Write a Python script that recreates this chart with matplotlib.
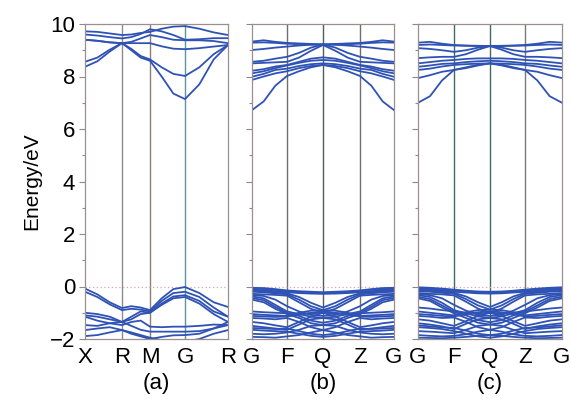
import numpy as np
import matplotlib.pyplot as plt

plt.rcParams['font.family'] = ['Liberation Sans', 'DejaVu Sans']

# high-symmetry labels of the three k-paths
labels_a = ['X', 'R', 'M', 'G', 'R']
labels_b = ['G', 'F', 'Q', 'Z', 'G']
labels_c = ['G', 'F', 'Q', 'Z', 'G']
panel_names = ['(a)', '(b)', '(c)']

# energies (eV) sampled at each high-symmetry point and at 1/3, 2/3 of each segment
bands_a_cond = [
    [9.72, 9.70, 9.64, 9.58, 9.60, 9.66, 9.70, 9.82, 9.90, 9.92, 9.82, 9.68, 9.58],
    [9.60, 9.56, 9.50, 9.45, 9.50, 9.62, 9.80, 9.72, 9.58, 9.40, 9.42, 9.46, 9.46],
    [9.40, 9.36, 9.30, 9.27, 9.32, 9.45, 9.58, 9.50, 9.40, 9.38, 9.38, 9.35, 9.27],
    [9.40, 9.36, 9.30, 9.27, 9.27, 9.27, 9.27, 9.15, 9.06, 9.04, 9.08, 9.14, 9.20],
    [8.56, 8.72, 9.02, 9.27, 9.05, 8.78, 8.65, 8.35, 8.10, 8.02, 8.35, 8.85, 9.20],
    [8.37, 8.58, 8.95, 9.27, 9.00, 8.72, 8.60, 8.00, 7.35, 7.14, 7.70, 8.65, 9.20],
]
bands_a_val = [
    [-0.08, -0.30, -0.60, -0.82, -0.75, -0.80, -0.90, -0.45, -0.10, -0.02, -0.25, -0.60, -0.78],
    [-0.20, -0.40, -0.68, -0.90, -0.85, -0.88, -0.95, -0.55, -0.25, -0.20, -0.40, -0.80, -1.15],
    [-1.00, -1.05, -1.15, -1.35, -1.15, -0.95, -1.00, -0.65, -0.38, -0.33, -0.55, -0.95, -1.15],
    [-1.10, -1.15, -1.25, -1.35, -1.25, -1.05, -1.00, -0.70, -0.45, -0.40, -0.65, -1.05, -1.35],
    [-1.15, -1.30, -1.40, -1.47, -1.35, -1.30, -1.53, -1.55, -1.53, -1.53, -1.50, -1.45, -1.47],
    [-1.47, -1.50, -1.40, -1.35, -1.50, -1.65, -1.72, -1.72, -1.72, -1.72, -1.70, -1.60, -1.47],
    [-1.66, -1.60, -1.55, -1.66, -1.80, -1.90, -2.00, -1.92, -1.86, -1.85, -1.80, -1.60, -1.35],
    [-1.89, -1.85, -1.75, -1.66, -1.75, -1.85, -1.95, -2.05, -2.10, -2.10, -2.00, -1.80, -1.66],
]

bands_b_cond = [
    [9.33, 9.38, 9.32, 9.28, 9.26, 9.24, 9.22, 9.24, 9.26, 9.28, 9.32, 9.38, 9.33],
    [9.29, 9.30, 9.28, 9.25, 9.23, 9.22, 9.22, 9.22, 9.23, 9.25, 9.28, 9.30, 9.29],
    [9.01, 9.05, 9.10, 9.14, 9.18, 9.21, 9.22, 9.21, 9.18, 9.14, 9.10, 9.05, 9.01],
    [8.56, 8.60, 8.68, 8.75, 8.90, 9.10, 9.22, 9.10, 8.90, 8.75, 8.68, 8.60, 8.56],
    [8.50, 8.52, 8.54, 8.56, 8.72, 8.98, 9.20, 8.98, 8.72, 8.56, 8.54, 8.52, 8.50],
    [8.22, 8.28, 8.38, 8.44, 8.56, 8.68, 8.73, 8.68, 8.56, 8.44, 8.38, 8.28, 8.22],
    [8.12, 8.20, 8.32, 8.42, 8.52, 8.60, 8.63, 8.60, 8.52, 8.42, 8.32, 8.20, 8.12],
    [7.99, 8.10, 8.25, 8.30, 8.40, 8.47, 8.50, 8.47, 8.40, 8.30, 8.25, 8.10, 7.99],
    [7.87, 8.00, 8.12, 8.20, 8.32, 8.40, 8.44, 8.40, 8.32, 8.20, 8.12, 8.00, 7.87],
    [6.72, 7.05, 7.65, 8.02, 8.20, 8.35, 8.44, 8.35, 8.20, 8.02, 7.65, 7.05, 6.72],
]
bands_b_val = [
    [-0.05, -0.06, -0.10, -0.15, -0.18, -0.20, -0.22, -0.20, -0.18, -0.15, -0.10, -0.06, -0.05],
    [-0.09, -0.10, -0.13, -0.18, -0.21, -0.23, -0.24, -0.23, -0.21, -0.18, -0.13, -0.10, -0.09],
    [-0.12, -0.14, -0.18, -0.22, -0.25, -0.27, -0.28, -0.27, -0.25, -0.22, -0.18, -0.14, -0.12],
    [-0.16, -0.18, -0.22, -0.26, -0.40, -0.62, -0.80, -0.62, -0.40, -0.26, -0.22, -0.18, -0.16],
    [-0.20, -0.22, -0.26, -0.30, -0.50, -0.75, -0.90, -0.75, -0.50, -0.30, -0.26, -0.22, -0.20],
    [-0.28, -0.30, -0.32, -0.35, -0.60, -0.85, -1.00, -0.85, -0.60, -0.35, -0.32, -0.30, -0.28],
    [-0.33, -0.36, -0.50, -0.75, -0.95, -1.08, -1.12, -1.08, -0.95, -0.75, -0.50, -0.36, -0.33],
    [-0.38, -0.45, -0.70, -0.95, -1.05, -1.15, -1.20, -1.15, -1.05, -0.95, -0.70, -0.45, -0.38],
    [-0.44, -0.52, -0.78, -1.00, -1.12, -1.30, -1.38, -1.30, -1.12, -1.00, -0.78, -0.52, -0.44],
    [-0.50, -0.60, -0.85, -1.05, -1.20, -1.40, -1.47, -1.40, -1.20, -1.05, -0.85, -0.60, -0.50],
    [-0.95, -0.98, -1.00, -1.02, -1.05, -1.02, -1.00, -1.02, -1.05, -1.02, -1.00, -0.98, -0.95],
    [-1.05, -1.08, -1.10, -1.12, -1.00, -0.92, -0.90, -0.92, -1.00, -1.12, -1.10, -1.08, -1.05],
    [-1.12, -1.14, -1.16, -1.14, -1.08, -1.00, -0.95, -1.00, -1.08, -1.14, -1.16, -1.14, -1.12],
    [-1.20, -1.22, -1.25, -1.20, -1.35, -1.55, -1.66, -1.55, -1.35, -1.20, -1.25, -1.22, -1.20],
    [-1.35, -1.40, -1.48, -1.55, -1.35, -1.15, -1.00, -1.15, -1.35, -1.55, -1.48, -1.40, -1.35],
    [-1.50, -1.55, -1.60, -1.65, -1.45, -1.25, -1.20, -1.25, -1.45, -1.65, -1.60, -1.55, -1.50],
    [-1.58, -1.60, -1.62, -1.60, -1.70, -1.80, -1.85, -1.80, -1.70, -1.60, -1.62, -1.60, -1.58],
    [-1.65, -1.68, -1.70, -1.72, -1.80, -1.88, -1.92, -1.88, -1.80, -1.72, -1.70, -1.68, -1.65],
    [-1.80, -1.82, -1.80, -1.75, -1.65, -1.50, -1.47, -1.50, -1.65, -1.75, -1.80, -1.82, -1.80],
    [-1.92, -1.93, -1.95, -1.90, -1.85, -1.75, -1.66, -1.75, -1.85, -1.90, -1.95, -1.93, -1.92],
]

bands_c_cond = [
    [9.29, 9.32, 9.25, 9.20, 9.18, 9.17, 9.16, 9.17, 9.18, 9.20, 9.25, 9.32, 9.29],
    [9.20, 9.22, 9.20, 9.18, 9.17, 9.16, 9.16, 9.16, 9.17, 9.18, 9.20, 9.22, 9.20],
    [9.08, 9.05, 9.00, 8.94, 9.00, 9.10, 9.16, 9.10, 9.00, 8.94, 9.00, 9.05, 9.08],
    [8.70, 8.73, 8.75, 8.75, 8.85, 9.02, 9.16, 9.02, 8.85, 8.75, 8.75, 8.73, 8.70],
    [8.50, 8.55, 8.60, 8.63, 8.67, 8.69, 8.69, 8.69, 8.67, 8.63, 8.60, 8.55, 8.50],
    [8.37, 8.42, 8.48, 8.50, 8.55, 8.58, 8.60, 8.58, 8.55, 8.50, 8.48, 8.42, 8.37],
    [8.25, 8.30, 8.38, 8.44, 8.47, 8.49, 8.50, 8.49, 8.47, 8.44, 8.38, 8.30, 8.25],
    [7.94, 8.05, 8.18, 8.25, 8.35, 8.45, 8.50, 8.45, 8.35, 8.25, 8.18, 8.05, 7.94],
    [7.00, 7.25, 7.85, 8.25, 8.32, 8.42, 8.50, 8.42, 8.32, 8.25, 7.85, 7.25, 7.00],
]
bands_c_val = [
    [-0.03, -0.05, -0.08, -0.12, -0.16, -0.19, -0.20, -0.19, -0.16, -0.12, -0.08, -0.05, -0.03],
    [-0.07, -0.09, -0.12, -0.16, -0.20, -0.23, -0.24, -0.23, -0.20, -0.16, -0.12, -0.09, -0.07],
    [-0.10, -0.12, -0.16, -0.20, -0.23, -0.26, -0.27, -0.26, -0.23, -0.20, -0.16, -0.12, -0.10],
    [-0.14, -0.16, -0.20, -0.24, -0.38, -0.60, -0.78, -0.60, -0.38, -0.24, -0.20, -0.16, -0.14],
    [-0.18, -0.20, -0.24, -0.28, -0.48, -0.72, -0.88, -0.72, -0.48, -0.28, -0.24, -0.20, -0.18],
    [-0.25, -0.28, -0.30, -0.34, -0.58, -0.84, -1.00, -0.84, -0.58, -0.34, -0.30, -0.28, -0.25],
    [-0.29, -0.33, -0.45, -0.70, -0.92, -1.08, -1.12, -1.08, -0.92, -0.70, -0.45, -0.33, -0.29],
    [-0.33, -0.40, -0.62, -0.90, -1.02, -1.14, -1.20, -1.14, -1.02, -0.90, -0.62, -0.40, -0.33],
    [-0.39, -0.48, -0.72, -0.96, -1.10, -1.28, -1.36, -1.28, -1.10, -0.96, -0.72, -0.48, -0.39],
    [-0.45, -0.55, -0.80, -1.02, -1.20, -1.38, -1.45, -1.38, -1.20, -1.02, -0.80, -0.55, -0.45],
    [-0.80, -0.84, -0.90, -0.95, -1.00, -1.02, -1.00, -1.02, -1.00, -0.95, -0.90, -0.84, -0.80],
    [-0.95, -1.00, -1.05, -1.10, -0.98, -0.90, -0.88, -0.90, -0.98, -1.10, -1.05, -1.00, -0.95],
    [-1.05, -1.08, -1.12, -1.14, -1.06, -0.98, -0.94, -0.98, -1.06, -1.14, -1.12, -1.08, -1.05],
    [-1.12, -1.15, -1.20, -1.18, -1.35, -1.55, -1.65, -1.55, -1.35, -1.18, -1.20, -1.15, -1.12],
    [-1.25, -1.30, -1.40, -1.50, -1.32, -1.12, -1.00, -1.12, -1.32, -1.50, -1.40, -1.30, -1.25],
    [-1.40, -1.45, -1.52, -1.62, -1.42, -1.25, -1.20, -1.25, -1.42, -1.62, -1.52, -1.45, -1.40],
    [-1.48, -1.52, -1.56, -1.58, -1.68, -1.80, -1.85, -1.80, -1.68, -1.58, -1.56, -1.52, -1.48],
    [-1.55, -1.58, -1.62, -1.70, -1.80, -1.90, -1.95, -1.90, -1.80, -1.70, -1.62, -1.58, -1.55],
    [-1.70, -1.72, -1.75, -1.78, -1.65, -1.50, -1.45, -1.50, -1.65, -1.78, -1.75, -1.72, -1.70],
    [-1.85, -1.88, -1.90, -1.88, -1.82, -1.72, -1.65, -1.72, -1.82, -1.88, -1.90, -1.88, -1.85],
    [-1.95, -1.96, -1.97, -1.95, -1.92, -1.88, -1.85, -1.88, -1.92, -1.95, -1.97, -1.96, -1.95],
]

# relative k-positions of the high-symmetry points (path length) for each panel
kpts_a = [0, 37, 65, 100, 143]
kpts_b = [0, 35, 71, 108, 142]
kpts_c = [0, 36, 72, 107, 144]

blue = '#2f52b5'
frame = '#9a8f8c'
vline_cols_a = ['#8a8e8e', '#8f7f78', '#5e93a3']
vline_cols_b = ['#6f6f6f', '#4f5f5f', '#6f6f6f']
vline_cols_c = ['#3f6a6a', '#3f6a6a', '#7a7a7a']

fig = plt.figure(figsize=(5.71, 4.0), dpi=100)
lefts = [85 / 571, 252 / 571, 418 / 571]
widths = [143 / 571, 142 / 571, 144 / 571]
bottom = 1 - 339 / 400
height = (339 - 24) / 400

panels = [
    (labels_a, kpts_a, bands_a_cond + bands_a_val, vline_cols_a),
    (labels_b, kpts_b, bands_b_cond + bands_b_val, vline_cols_b),
    (labels_c, kpts_c, bands_c_cond + bands_c_val, vline_cols_c),
]

for i, (labels, kpts, bands, vcols) in enumerate(panels):
    ax = fig.add_axes([lefts[i], bottom, widths[i], height])
    # k sample points: each segment split in thirds
    k = [kpts[0]]
    for s in range(4):
        k += list(np.linspace(kpts[s], kpts[s + 1], 4)[1:])
    for b in bands:
        ax.plot(k, b, color=blue, lw=1.3, solid_joinstyle='round')
    for j, xv in enumerate(kpts[1:-1]):
        ax.axvline(xv, color=vcols[j], lw=1.0, zorder=0)
    ax.axhline(0, color='#d8a8a0', lw=0.9, ls=(0, (1, 2)), zorder=0)
    ax.set_xlim(kpts[0], kpts[-1])
    ax.set_ylim(-2, 10)
    ax.set_xticks(kpts)
    ax.set_xticklabels(labels, fontsize=16)
    ax.tick_params(axis='x', length=0, pad=6)
    ax.set_yticks(range(-2, 11, 2))
    ax.set_yticks(range(-1, 10, 2), minor=True)
    ax.tick_params(axis='y', which='major', length=4, width=0.8, color='#8a8a8a', pad=3, labelsize=16)
    ax.tick_params(axis='y', which='minor', length=2.5, width=0.8, color='#8a8a8a')
    if i > 0:
        ax.set_yticklabels([])
    for sp in ax.spines.values():
        sp.set_color(frame)
        sp.set_linewidth(0.9)
    if i == 0:
        ax.set_ylabel('Energy/eV', fontsize=15, labelpad=6)
    fig.text(lefts[i] + widths[i] / 2, 1 - 383 / 400, panel_names[i],
             ha='center', va='center', fontsize=16)

fig.savefig('out.png', dpi=100)
